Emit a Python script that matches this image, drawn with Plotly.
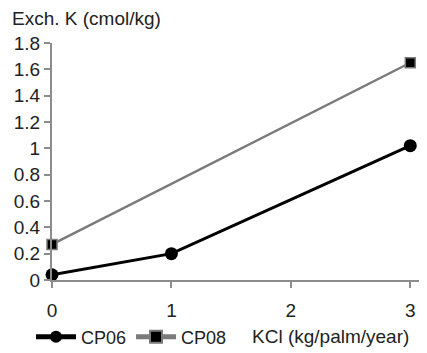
import plotly.graph_objects as go

kcl = [0, 1, 3]
cp06 = [0.04, 0.2, 1.02]
kcl_cp08 = [0, 3]
cp08 = [0.27, 1.65]

y_ticks = [0, 0.2, 0.4, 0.6, 0.8, 1, 1.2, 1.4, 1.6, 1.8]
y_labels = ["0", "0.2", "0.4", "0.6", "0.8", "1", "1.2", "1.4", "1.6", "1.8"]
x_ticks = [0, 1, 2, 3]

if __name__ == "__main__":
    fig = go.Figure()
    fig.add_trace(go.Scatter(
        x=kcl, y=cp06, name="CP06", mode="lines+markers",
        line=dict(color="black", width=3),
        marker=dict(symbol="circle", size=13, color="black"),
        cliponaxis=False,
    ))
    fig.add_trace(go.Scatter(
        x=kcl_cp08, y=cp08, name="CP08", mode="lines+markers",
        line=dict(color="#7a7a7a", width=2.5),
        marker=dict(symbol="square", size=10, color="black",
                    line=dict(color="#7a7a7a", width=1.5)),
        cliponaxis=False,
    ))

    # page body has an 8px margin, so the figure is sized to the visible area
    font = "Liberation Sans, Arial, sans-serif"
    fig.update_layout(
        width=419, height=345,
        margin=dict(l=44, r=0, t=35, b=73, autoexpand=False),
        paper_bgcolor="white", plot_bgcolor="white",
        font=dict(family=font, size=19, color="#222"),
        showlegend=True,
        legend=dict(orientation="h", x=-0.056, y=-0.2405, xanchor="left",
                    yanchor="middle", font=dict(size=18),
                    bgcolor="rgba(0,0,0,0)", itemsizing="constant",
                    itemwidth=40, tracegroupgap=0),
        xaxis=dict(
            range=[0, 3.14], tickvals=x_ticks, showgrid=False, zeroline=False,
            showline=True, linecolor="#8c8c8c", linewidth=2,
            ticks="outside", ticklen=6, tickcolor="#8c8c8c", tickwidth=2,
            ticklabelstandoff=6, automargin=False,
        ),
        yaxis=dict(
            range=[0, 1.8], tickvals=y_ticks, ticktext=y_labels,
            showgrid=False, zeroline=False,
            showline=True, linecolor="#8c8c8c", linewidth=2,
            ticks="outside", ticklen=6, tickcolor="#8c8c8c", tickwidth=2,
            automargin=False,
        ),
        annotations=[
            dict(text="Exch. K (cmol/kg)", xref="paper", yref="paper",
                 x=-0.112, y=1.105, xanchor="left", yanchor="middle",
                 showarrow=False, font=dict(size=19)),
            dict(text="KCl (kg/palm/year)", xref="paper", yref="paper",
                 x=0.528, y=-0.2405, xanchor="left", yanchor="middle",
                 showarrow=False, font=dict(size=19)),
        ],
    )

    fig.write_html("out.html")
